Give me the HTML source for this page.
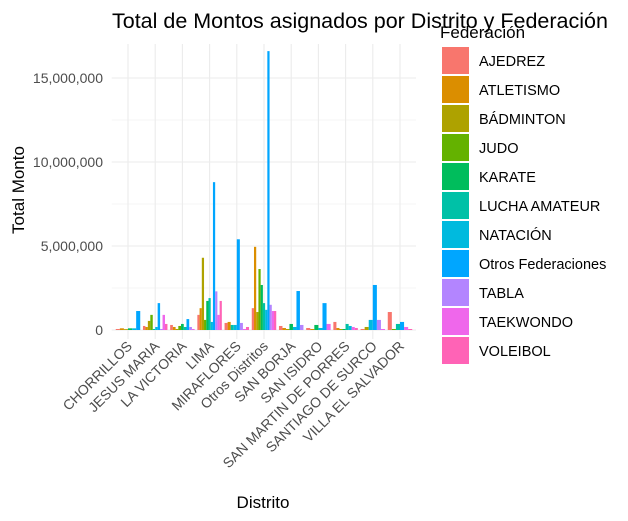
<!DOCTYPE html>
<html><head><meta charset="utf-8"><style>
body{margin:0;background:#fff;}
svg{display:block;font-family:"Liberation Sans",sans-serif;}
</style></head><body>
<svg id="chart" width="628" height="521">
<text x="112" y="28" font-size="21.5" fill="#000">Total de Montos asignados por Distrito y Federación</text>
<g id="grid"></g><g id="bars"></g><g id="yticks"></g><g id="xticks"></g>
<text x="263" y="508" font-size="17" text-anchor="middle" fill="#000">Distrito</text>
<text transform="translate(24,190) rotate(-90)" font-size="17" text-anchor="middle" fill="#000">Total Monto</text>
<text x="440" y="38" font-size="17" fill="#000">Federación</text>
<g id="legend"></g>
</svg>
<script>
const districts=["CHORRILLOS","JESUS MARIA","LA VICTORIA","LIMA","MIRAFLORES","Otros Distritos","SAN BORJA","SAN ISIDRO","SAN MARTIN DE PORRES","SANTIAGO DE SURCO","VILLA EL SALVADOR"];
const federations=["AJEDREZ","ATLETISMO","BÁDMINTON","JUDO","KARATE","LUCHA AMATEUR","NATACIÓN","Otros Federaciones","TABLA","TAEKWONDO","VOLEIBOL"];
const colors=["#F8766D","#DB8E00","#AEA200","#64B200","#00BD5C","#00C1A7","#00BADE","#00A6FF","#B385FF","#EF67EB","#FF63B6"];
const v0=[60000,100000,50000,null,100000,null,100000,1130000,null,null,null];
const v1=[240000,180000,540000,900000,null,60000,180000,1600000,60000,900000,360000];
const v2=[300000,180000,60000,240000,360000,180000,null,650000,180000,60000,null];
const v3=[900000,1300000,4300000,600000,1730000,1900000,480000,8800000,2300000,900000,1730000];
const v4=[420000,480000,null,null,null,300000,300000,5400000,420000,60000,180000];
const v5=[1300000,4950000,1070000,3630000,2680000,1600000,1200000,16600000,1500000,1130000,1130000];
const v6=[240000,120000,60000,null,360000,null,180000,2320000,300000,null,null];
const v7=[120000,60000,null,null,300000,null,120000,1600000,null,360000,null];
const v8=[480000,120000,60000,null,60000,360000,240000,null,null,180000,120000];
const v9=[60000,null,180000,null,null,null,600000,2680000,600000,60000,null];
const v10=[1070000,null,null,60000,null,360000,null,480000,null,180000,60000];
const values=[v0,v1,v2,v3,v4,v5,v6,v7,v8,v9,v10];
const yTicks=[0,5000000,10000000,15000000];
const yLabels=["0","5,000,000","10,000,000","15,000,000"];

const NS="http://www.w3.org/2000/svg";
const L=111.7,R=416,T=44,B=339;
const y0=330,pxPerUnit=84/5000000;
const Y=v=>y0-v*pxPerUnit;
const band=27.2;
const X=i=>128+band*i;
function mk(tag,attrs,parent){const e=document.createElementNS(NS,tag);for(const k in attrs)e.setAttribute(k,attrs[k]);parent.appendChild(e);return e;}
const grid=document.getElementById('grid');
for(let i=0;i<7;i++){const v=i*2500000;const y=Y(v);if(y<T)break;
 const l=mk('line',{x1:L,x2:R,y1:y,y2:y,stroke:'#ebebeb','stroke-width':i%2?0.6:1.1},grid);
 }
districts.forEach((d,i)=>{const l=mk('line',{x1:X(i),x2:X(i),y1:T,y2:B,stroke:'#ebebeb','stroke-width':1.1},grid);
 });
const bars=document.getElementById('bars');
values.forEach((row,i)=>{
 const present=row.map((v,j)=>v==null?-1:j).filter(j=>j>=0);
 const w=band*0.9/present.length;const start=X(i)-band*0.45;
 present.forEach((j,k)=>{const v=row[j];
  const r=mk('rect',{x:start+k*w,y:Y(v),width:w,height:y0-Y(v),fill:colors[j]},bars);
  
  });
});
const yt=document.getElementById('yticks');
yTicks.forEach((v,i)=>{const t=mk('text',{x:103,y:Y(v)+5,'font-size':14,'text-anchor':'end',fill:'#4d4d4d'},yt);t.textContent=yLabels[i];
 });
const xt=document.getElementById('xticks');
districts.forEach((d,i)=>{const t=mk('text',{transform:`translate(${X(i)+5},${347}) rotate(-45)`,'font-size':14,'text-anchor':'end',fill:'#4d4d4d'},xt);t.textContent=d;
 });
const lg=document.getElementById('legend');
federations.forEach((f,i)=>{const y=47+i*29;
 const r=mk('rect',{x:442,y:y,width:27,height:27,fill:colors[i]},lg);
 
 const t=mk('text',{x:479,y:y+19,'font-size':14.5,fill:'#000'},lg);t.textContent=f;
 });
</script>
</body></html>
